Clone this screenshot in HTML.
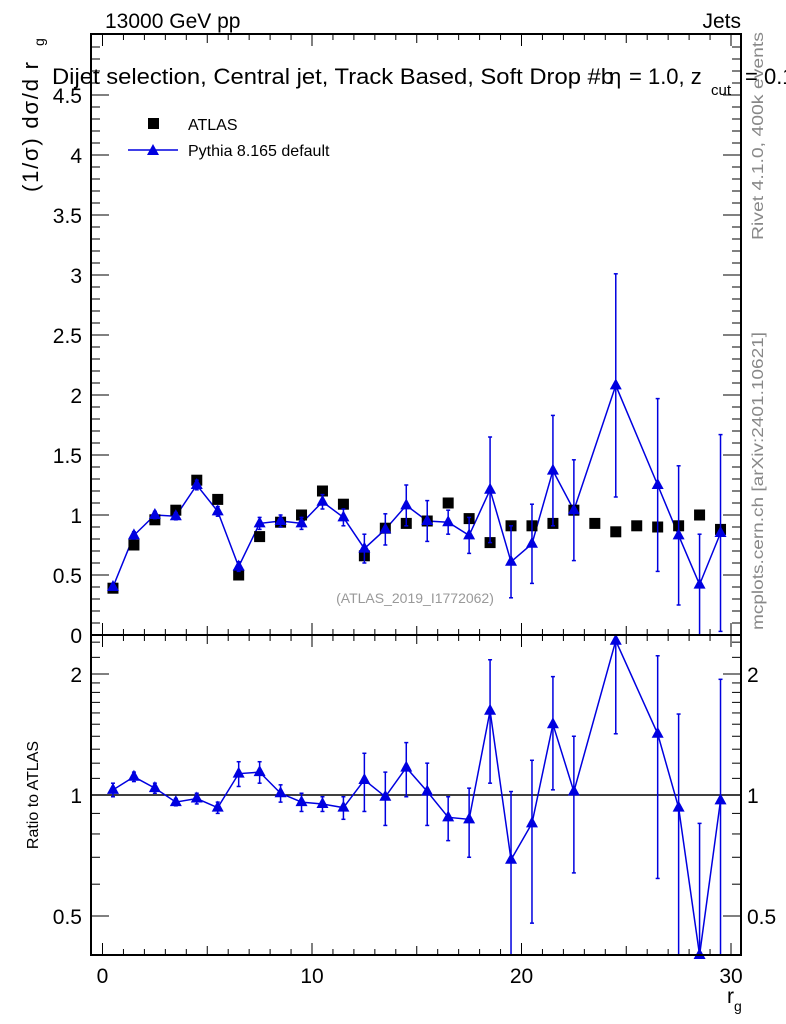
<!DOCTYPE html>
<html><head><meta charset="utf-8"><style>
html,body{margin:0;padding:0;background:#fff;}
svg{display:block;font-family:"Liberation Sans",sans-serif;}
</style></head><body>
<svg id="chart" width="786" height="1024" viewBox="0 0 786 1024">
<g id="g-main"></g>
<g id="g-ratio"></g>
<g id="g-axes"></g>
<text x="105" y="28" font-size="21">13000 GeV pp</text>
<text x="741" y="28" font-size="21" text-anchor="end">Jets</text>
<g>
<text x="52" y="84" font-size="22" textLength="562" lengthAdjust="spacingAndGlyphs">Dijet selection, Central jet, Track Based, Soft Drop #b</text>
<text x="609" y="84" font-size="22">η</text>
<text x="629" y="84" font-size="22">= 1.0, z</text>
<text x="711" y="95" font-size="15">cut</text>
<text x="745" y="84" font-size="22">= 0.1</text>
</g>
<g>
<text transform="translate(38,192) rotate(-90)" font-size="22" textLength="130" lengthAdjust="spacing">(1/σ) dσ/d r</text>
<text transform="translate(44,46) rotate(-90)" font-size="14">g</text>
</g>
<text transform="translate(38,795) rotate(-90)" font-size="16" text-anchor="middle">Ratio to ATLAS</text>
<text x="727" y="1003" font-size="21">r<tspan dy="8" font-size="14">g</tspan></text>
<text transform="translate(763,240) rotate(-90)" font-size="16" fill="#888" textLength="208" lengthAdjust="spacingAndGlyphs">Rivet 4.1.0,  400k events</text>
<text transform="translate(763,630) rotate(-90)" font-size="16" fill="#888" textLength="298" lengthAdjust="spacingAndGlyphs">mcplots.cern.ch [arXiv:2401.10621]</text>
<text x="415" y="603" font-size="14" fill="#999" text-anchor="middle">(ATLAS_2019_I1772062)</text>
<rect x="148" y="118" width="11" height="11" fill="#000"/>
<text x="188" y="130" font-size="16">ATLAS</text>
<line x1="128" y1="150" x2="178" y2="150" stroke="#0000e0" stroke-width="1.5"/>
<polygon points="153,144 147,155 159,155" fill="#0000e0"/>
<text x="188" y="156" font-size="16">Pythia 8.165 default</text>
</svg>
<script>
const xCenters=[0.5,1.5,2.5,3.5,4.5,5.5,6.5,7.5,8.5,9.5,10.5,11.5,12.5,13.5,14.5,15.5,16.5,17.5,18.5,19.5,20.5,21.5,22.5,23.5,24.5,25.5,26.5,27.5,28.5,29.5];
const atlasVals=[0.39,0.75,0.96,1.04,1.29,1.13,0.50,0.82,0.94,1.00,1.20,1.09,0.66,0.89,0.93,0.95,1.10,0.97,0.77,0.91,0.91,0.93,1.04,0.93,0.86,0.91,0.90,0.91,1.00,0.88];
const pythiaVals=[0.40,0.83,1.00,0.99,1.25,1.03,0.57,0.93,0.95,0.93,1.11,0.98,0.72,0.88,1.08,0.95,0.94,0.83,1.21,0.61,0.76,1.37,1.04,null,2.08,null,1.25,0.83,0.42,0.85];
const pythiaErrs=[0.02,0.03,0.03,0.03,0.04,0.04,0.04,0.05,0.05,0.05,0.06,0.07,0.12,0.13,0.17,0.17,0.10,0.15,0.44,0.30,0.33,0.46,0.42,null,0.93,null,0.72,0.58,0.42,0.82];
const ratioVals=[1.03,1.11,1.04,0.96,0.98,0.93,1.13,1.14,1.01,0.96,0.95,0.93,1.09,0.99,1.17,1.02,0.88,0.87,1.62,0.69,0.85,1.50,1.02,null,2.42,null,1.42,0.93,0.38,0.97];
const ratioErrs=[0.04,0.03,0.03,0.02,0.03,0.03,0.08,0.07,0.05,0.05,0.04,0.06,0.18,0.15,0.18,0.18,0.11,0.17,0.55,0.33,0.37,0.47,0.38,null,1.0,null,0.80,0.66,0.47,0.97];
const mainTicks=[0,0.5,1,1.5,2,2.5,3,3.5,4,4.5];
const ratioTicks=[0.5,1,2];
const xTicks=[0,10,20,30];

const NS="http://www.w3.org/2000/svg";
const L=91,R=741,MT=34,MB=635,RB=955;
const xs=v=>102.5+v*20.95;
const ym=v=>635-v*120;
const yr=v=>795-Math.log10(v)*402;
function mk(p,t,a){const e=document.createElementNS(NS,t);for(const k in a)e.setAttribute(k,a[k]);p.appendChild(e);return e;}
const gm=document.getElementById('g-main'),gr=document.getElementById('g-ratio'),ga=document.getElementById('g-axes');
const BLUE="#0000e0";
function clipY(y,top,bot){return Math.max(top,Math.min(bot,y));}
function tri(p,x,y,name){const t=mk(p,'polygon',{points:`${x},${y-7} ${x-6},${y+4} ${x+6},${y+4}`,fill:BLUE});

}

let pts=[];xCenters.forEach((x,i)=>{if(pythiaVals[i]!=null)pts.push(xs(x)+','+ym(pythiaVals[i]));});
const pl=mk(gm,'polyline',{points:pts.join(' '),fill:'none',stroke:BLUE,'stroke-width':1.5});


xCenters.forEach((x,i)=>{
 const a=mk(gm,'rect',{x:xs(x)-5.5,y:ym(atlasVals[i])-5.5,width:11,height:11,fill:'#000'});
 
 
 if(pythiaVals[i]==null)return;
 const v=pythiaVals[i],e=pythiaErrs[i];
 const y1=clipY(ym(v+e),MT,MB),y2=clipY(ym(v-e),MT,MB);
 const eb=mk(gm,'line',{x1:xs(x),x2:xs(x),y1:y1,y2:y2,stroke:BLUE,'stroke-width':1.5});
 
 
 if(y1>MT)mk(gm,'line',{x1:xs(x)-2,x2:xs(x)+2,y1:y1,y2:y1,stroke:BLUE,'stroke-width':1.5});
 if(y2<MB)mk(gm,'line',{x1:xs(x)-2,x2:xs(x)+2,y1:y2,y2:y2,stroke:BLUE,'stroke-width':1.5});
 tri(gm,xs(x),ym(v),'pythia-point');
});
const one=mk(gr,'line',{x1:L,x2:R,y1:yr(1),y2:yr(1),stroke:'#000','stroke-width':1.5});


pts=[];xCenters.forEach((x,i)=>{if(ratioVals[i]!=null)pts.push(xs(x)+','+clipY(yr(ratioVals[i]),MB,RB));});
const rl=mk(gr,'polyline',{points:pts.join(' '),fill:'none',stroke:BLUE,'stroke-width':1.5});


xCenters.forEach((x,i)=>{
 if(ratioVals[i]==null)return;
 const v=ratioVals[i],e=ratioErrs[i];
 const y1=clipY(yr(v+e),MB,RB),y2=v-e>0?clipY(yr(v-e),MB,RB):RB;
 const eb=mk(gr,'line',{x1:xs(x),x2:xs(x),y1:y1,y2:y2,stroke:BLUE,'stroke-width':1.5});
 
 
 if(y1>MB)mk(gr,'line',{x1:xs(x)-2,x2:xs(x)+2,y1:y1,y2:y1,stroke:BLUE,'stroke-width':1.5});
 if(y2<RB)mk(gr,'line',{x1:xs(x)-2,x2:xs(x)+2,y1:y2,y2:y2,stroke:BLUE,'stroke-width':1.5});
 tri(gr,xs(x),clipY(yr(v),MB,RB),'ratio-point');
});
const f1=mk(ga,'rect',{x:L,y:MT,width:R-L,height:MB-MT,fill:'none',stroke:'#000','stroke-width':2});


const f2=mk(ga,'rect',{x:L,y:MB,width:R-L,height:RB-MB,fill:'none',stroke:'#000','stroke-width':2});


for(let v=0;v<=30;v++){
 const len=v%10==0?12:(v%5==0?9:6);
 [[MT,1],[MB,-1],[MB,1],[RB,-1]].forEach(([y,d])=>mk(ga,'line',{x1:xs(v),x2:xs(v),y1:y,y2:y+d*len,stroke:'#000','stroke-width':1}));
}
xTicks.forEach(v=>{const t=mk(ga,'text',{x:xs(v),y:983,'font-size':21,'text-anchor':'middle'});t.textContent=v;

});
for(let k=1;k<=49;k++){const v=k/10,y=ym(v);if(y<MT)break;const len=k%5==0?18:9;
 mk(ga,'line',{x1:L,x2:L+len,y1:y,y2:y,stroke:'#000'});mk(ga,'line',{x1:R,x2:R-len,y1:y,y2:y,stroke:'#000'});}
mainTicks.forEach(v=>{const t=mk(ga,'text',{x:82,y:ym(v)+8,'font-size':21,'text-anchor':'end'});t.textContent=v;

});
[0.4,0.5,0.6,0.7,0.8,0.9,1,1.1,1.2,1.3,1.4,1.5,1.6,1.7,1.8,1.9,2,2.2,2.4].forEach(v=>{const y=yr(v);if(y<MB||y>RB)return;
 const len=ratioTicks.includes(v)?18:9;
 mk(ga,'line',{x1:L,x2:L+len,y1:y,y2:y,stroke:'#000'});mk(ga,'line',{x1:R,x2:R-len,y1:y,y2:y,stroke:'#000'});});
ratioTicks.forEach(v=>{const t=mk(ga,'text',{x:82,y:yr(v)+8,'font-size':21,'text-anchor':'end'});t.textContent=v;


const t2=mk(ga,'text',{x:747,y:yr(v)+8,'font-size':21});t2.textContent=v;

});
</script>
</body></html>
